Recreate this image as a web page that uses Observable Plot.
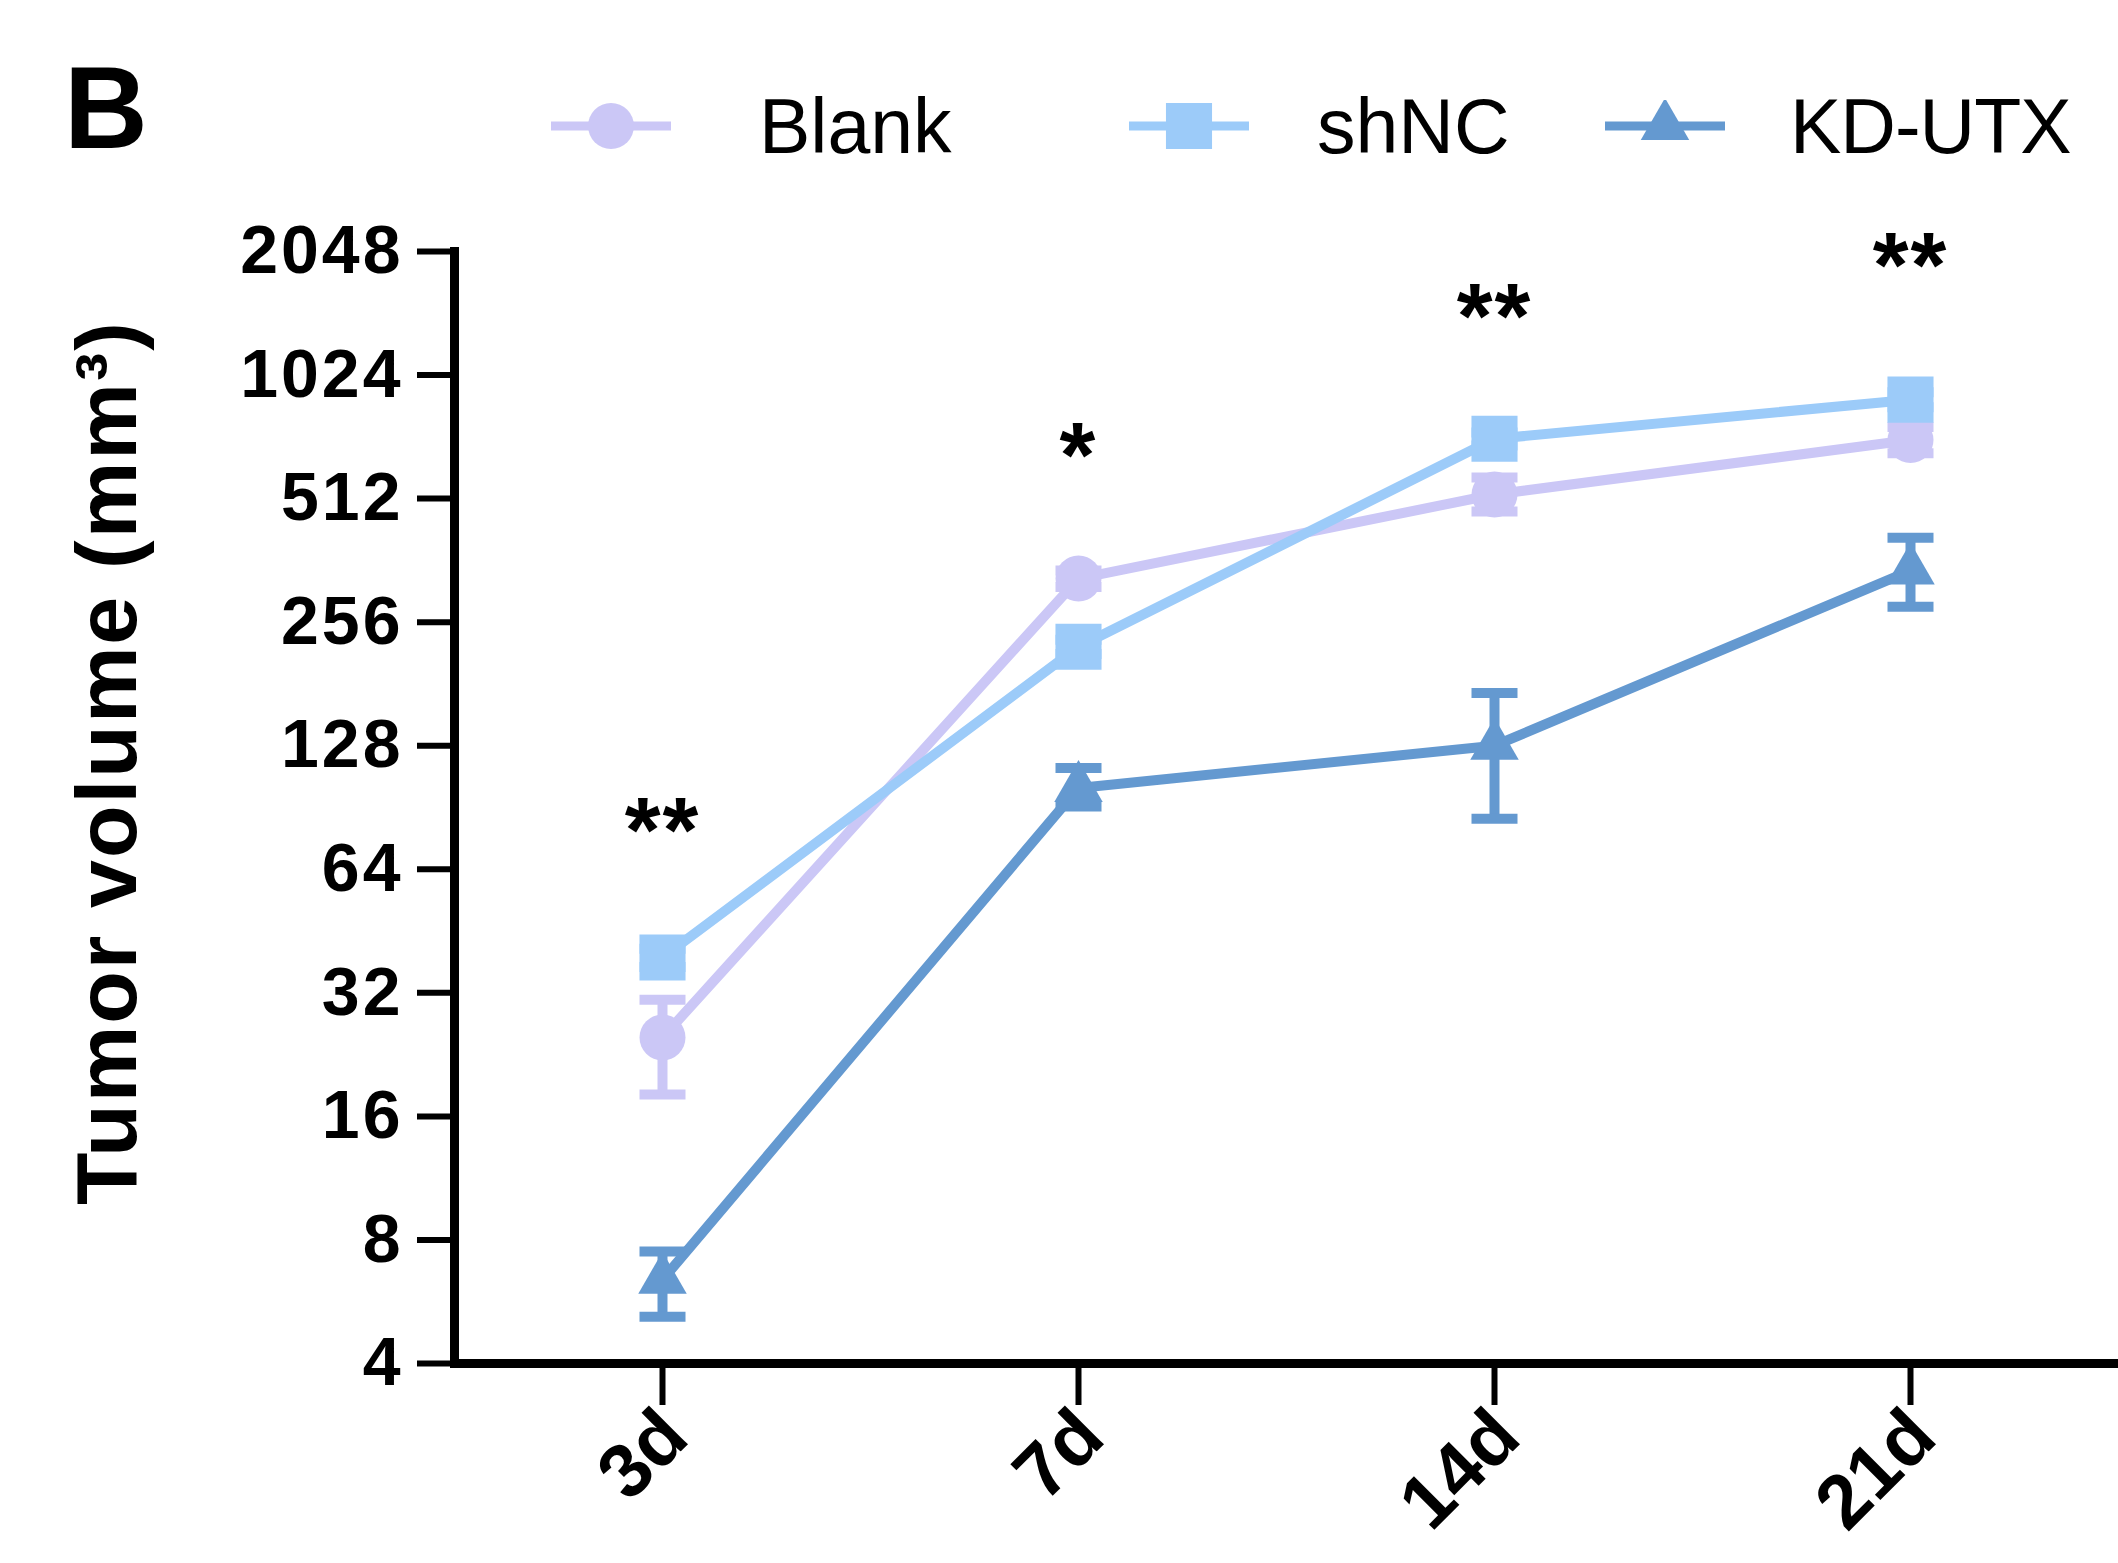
<!DOCTYPE html>
<html>
<head>
<meta charset="utf-8">
<script src="https://cdn.jsdelivr.net/npm/d3@7"></script>
<script src="https://cdn.jsdelivr.net/npm/@observablehq/plot@0.6"></script>
<style>
  html, body { margin: 0; padding: 0; background: #fff; }
  body { width: 2118px; font-family: "Liberation Sans", Arial, sans-serif; }
  #header { position: relative; width: 2118px; height: 180px; }
  #panel { position: absolute; left: 64px; top: 50px; font-size: 116px; font-weight: bold; line-height: 1; }
  .item { position: absolute; top: 100px; height: 52px; display: flex; align-items: center; }
  .item span { font-size: 77px; line-height: 1; }
  #chart svg g[aria-label="y-axis tick label"] text { letter-spacing: 3px; }
  #chart svg g[aria-label="text"] text { letter-spacing: 2px; }
</style>
</head>
<body>
<div id="header"><div id="panel">B</div></div>
<div id="chart"></div>
<script>
// ---- data ----
const days = ["3d", "7d", "14d", "21d"];
const seriesNames = ["Blank", "shNC", "KD-UTX"];
const seriesColors = ["#cbc7f6", "#9ccbf9", "#6499d0"];
const seriesSymbols = ["circle", "square", "triangle"];

const blankMean = [24.9, 327, 524, 711];
const blankLow  = [18.1, 312, 476, 660];
const blankHigh = [30.8, 342, 576, 765];

const shncMean = [39, 223, 716, 892];
const shncLow  = [37, 214, 690, 855];
const shncHigh = [41, 232, 742, 930];

const kdMean = [6.4, 101, 128, 342];
const kdLow  = [5.2, 91, 85, 279];
const kdHigh = [7.5, 113, 172, 411];

const yTicks = [4, 8, 16, 32, 64, 128, 256, 512, 1024, 2048];

const sigDays = ["3d", "7d", "14d", "21d"];
const sigLabels = ["**", "*", "**", "**"];
const sigLevel = [84, 690, 1500, 2000];

const yTitle = "Tumor volume (mm³)";

// ---- build tables ----
const means = [blankMean, shncMean, kdMean];
const lows = [blankLow, shncLow, kdLow];
const highs = [blankHigh, shncHigh, kdHigh];
const rows = [];
seriesNames.forEach((s, si) => {
  days.forEach((d, di) => {
    rows.push({series: s, day: d, mean: means[si][di], low: lows[si][di], high: highs[si][di]});
  });
});
const sig = sigDays.map((d, i) => ({day: d, label: sigLabels[i], level: sigLevel[i]}));

const capSymbol = {
  draw(context, size) {
    const r = Math.sqrt(size / Math.PI);
    context.moveTo(-r, 0);
    context.lineTo(r, 0);
  }
};
const markerR = {"Blank": 23, "shNC": 26, "KD-UTX": 18};

const marks = [];
// lines
seriesNames.forEach((s, si) => {
  marks.push(Plot.line(rows.filter(r => r.series === s), {
    x: "day", y: "mean", stroke: seriesColors[si], strokeWidth: 10
  }));
});
// markers + error bars
seriesNames.forEach((s, si) => {
  const data = rows.filter(r => r.series === s);
  marks.push(Plot.dot(data, {x: "day", y: "mean", symbol: seriesSymbols[si], r: markerR[s], fill: seriesColors[si], stroke: "none"}));
  marks.push(Plot.ruleX(data, {x: "day", y1: "low", y2: "high", stroke: seriesColors[si], strokeWidth: 10}));
  marks.push(Plot.dot(data, {x: "day", y: "low", symbol: capSymbol, r: 23, fill: "none", stroke: seriesColors[si], strokeWidth: 10}));
  marks.push(Plot.dot(data, {x: "day", y: "high", symbol: capSymbol, r: 23, fill: "none", stroke: seriesColors[si], strokeWidth: 10}));
});
// significance
marks.push(Plot.text(sig, {x: "day", y: "level", text: "label", fontSize: 92, fontWeight: "bold", dy: 12, fill: "#000"}));
// y title
marks.push(Plot.text([yTitle], {text: d => d, frameAnchor: "left", rotate: -90, dx: -319, dy: -45, fontSize: 86, fontWeight: "bold", lineAnchor: "bottom", textAnchor: "middle", fill: "#000"}));
// axes
marks.push(Plot.axisY({ticks: yTicks, tickFormat: d => String(d), tickSize: 37, tickPadding: 14, fontSize: 68, fontWeight: "bold", strokeWidth: 6, label: null}));
marks.push(Plot.axisX({tickSize: 42, tickPadding: 18, tickRotate: -45, fontSize: 76, fontWeight: "bold", strokeWidth: 6, label: null, textStroke: "none"}));
marks.push(Plot.frame({anchor: "left", strokeWidth: 9}));
marks.push(Plot.frame({anchor: "bottom", strokeWidth: 9}));

const chart = Plot.plot({
  width: 2118,
  height: 1383,
  marginLeft: 454,
  marginRight: 0,
  marginTop: 71,
  marginBottom: 200,
  style: {fontFamily: '"Liberation Sans", Arial, sans-serif', color: "#000", background: "#fff", overflow: "visible"},
  x: {type: "point", domain: days, padding: 0.5},
  y: {type: "log", base: 2, domain: [4, 2048]},
  marks
});
document.getElementById("chart").appendChild(chart);
// nudge rotated x tick labels slightly to the right, as in the reference
d3.select(chart).selectAll('g[aria-label="x-axis tick label"]').attr("transform", function() {
  const t = this.getAttribute("transform") || "";
  return t + " translate(12,0)";
});

// ---- legend (HTML above the SVG) ----
const legendLeft = [551, 1129, 1605];
const labelOffset = [208, 188, 185];
const header = document.getElementById("header");
seriesNames.forEach((s, si) => {
  const item = document.createElement("div");
  item.className = "item";
  item.style.left = legendLeft[si] + "px";
  const sw = d3.create("svg").attr("width", 120).attr("height", 52).style("position", "absolute").style("left", "0px").style("top", "0px");
  sw.append("line").attr("x1", 0).attr("x2", 120).attr("y1", 26).attr("y2", 26).attr("stroke", seriesColors[si]).attr("stroke-width", 9);
  const sym = {circle: d3.symbolCircle, square: d3.symbolSquare, triangle: d3.symbolTriangle}[seriesSymbols[si]];
  const r = markerR[s];
  sw.append("path").attr("transform", "translate(60,26)").attr("d", d3.symbol(sym, Math.PI * r * r)()).attr("fill", seriesColors[si]);
  item.appendChild(sw.node());
  const label = document.createElement("span");
  label.textContent = s;
  label.style.marginLeft = labelOffset[si] + "px";
  if (s === "KD-UTX") label.style.letterSpacing = "-1px";
  item.appendChild(label);
  header.appendChild(item);
});
</script>
</body>
</html>
